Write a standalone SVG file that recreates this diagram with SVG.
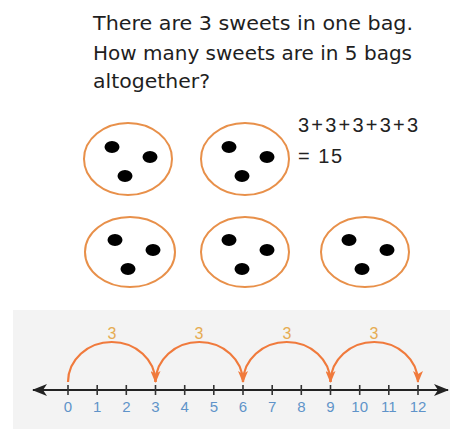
<svg xmlns="http://www.w3.org/2000/svg" width="450" height="429" viewBox="0 0 450 429">
<defs>
<style>
.q{font-family:"DejaVu Sans","Liberation Sans",sans-serif;font-size:20px;fill:#1e1e1e}
.eq{font-family:"Liberation Sans",Arial,sans-serif;font-size:20px;fill:#222}
.bag{fill:#fff;stroke:#e8904a;stroke-width:2}
.dot{fill:#000}
.num{font-family:"Liberation Sans",Arial,sans-serif;font-size:15px;fill:#5f93c9;text-anchor:middle}
.jl{font-family:"Liberation Sans",Arial,sans-serif;font-size:16px;fill:#e6ac52;text-anchor:middle}
.jump{fill:none;stroke:#f07a3c;stroke-width:2.2;marker-end:url(#ah)}
.tick{stroke:#333;stroke-width:1.6}
</style>
<marker id="ah" viewBox="0 0 12 10" refX="11" refY="5" markerWidth="12" markerHeight="10" markerUnits="userSpaceOnUse" orient="auto">
<path d="M0,0 L12,5 L0,10 L3,5 Z" fill="#f07a3c"/>
</marker>
<marker id="la" viewBox="0 0 15 12" refX="14" refY="6" markerWidth="15" markerHeight="12" markerUnits="userSpaceOnUse" orient="auto-start-reverse">
<path d="M15,6 L0,0 L4,6 L0,12 Z" fill="#222"/>
</marker>
<symbol id="sweets" overflow="visible">
<ellipse class="dot" cx="-16" cy="-12" rx="7.5" ry="6"/>
<ellipse class="dot" cx="22" cy="-2" rx="7.5" ry="6"/>
<ellipse class="dot" cx="-3" cy="17" rx="7.5" ry="6"/>
</symbol>
</defs>
<rect width="450" height="429" fill="#fff"/>
<rect x="13" y="310" width="437" height="119" fill="#f3f3f3"/>

<g id="question">
<text class="q" x="93" y="30" textLength="320" lengthAdjust="spacingAndGlyphs">There are 3 sweets in one bag.</text>
<text class="q" x="93" y="60" textLength="319" lengthAdjust="spacingAndGlyphs">How many sweets are in 5 bags</text>
<text class="q" x="93" y="88" textLength="117" lengthAdjust="spacingAndGlyphs">altogether?</text>
</g>

<g id="equation">
<text class="eq" x="298" y="132" textLength="120">3+3+3+3+3</text>
<text class="eq" x="298" y="163" textLength="44">= 15</text>
</g>

<g id="bag1"><ellipse class="bag" cx="128" cy="159" rx="44" ry="36"/><use href="#sweets" x="128" y="159"/></g>
<g id="bag2"><ellipse class="bag" cx="245" cy="159" rx="44" ry="36"/><use href="#sweets" x="245" y="159"/></g>
<g id="bag3"><ellipse class="bag" cx="130" cy="252" rx="45" ry="35"/><use href="#sweets" x="131" y="252"/></g>
<g id="bag4"><ellipse class="bag" cx="245" cy="252" rx="44" ry="35"/><use href="#sweets" x="245" y="252"/></g>
<g id="bag5"><ellipse class="bag" cx="365" cy="252" rx="44" ry="35"/><use href="#sweets" x="365" y="252"/></g>

<g id="numberline">
<line x1="33" y1="390" x2="448" y2="390" stroke="#222" stroke-width="2" marker-start="url(#la)" marker-end="url(#la)"/>
<g class="tick">
<line x1="68" y1="385" x2="68" y2="395"/><line x1="97.2" y1="385" x2="97.2" y2="395"/><line x1="126.3" y1="385" x2="126.3" y2="395"/><line x1="155.5" y1="385" x2="155.5" y2="395"/><line x1="184.7" y1="385" x2="184.7" y2="395"/><line x1="213.8" y1="385" x2="213.8" y2="395"/><line x1="243" y1="385" x2="243" y2="395"/><line x1="272.2" y1="385" x2="272.2" y2="395"/><line x1="301.3" y1="385" x2="301.3" y2="395"/><line x1="330.5" y1="385" x2="330.5" y2="395"/><line x1="359.7" y1="385" x2="359.7" y2="395"/><line x1="388.8" y1="385" x2="388.8" y2="395"/><line x1="418" y1="385" x2="418" y2="395"/>
</g>
<text class="num" x="68" y="412">0</text><text class="num" x="97.2" y="412">1</text><text class="num" x="126.3" y="412">2</text><text class="num" x="155.5" y="412">3</text><text class="num" x="184.7" y="412">4</text><text class="num" x="213.8" y="412">5</text><text class="num" x="243" y="412">6</text><text class="num" x="272.2" y="412">7</text><text class="num" x="301.3" y="412">8</text><text class="num" x="330.5" y="412">9</text><text class="num" x="359.7" y="412">10</text><text class="num" x="388.8" y="412">11</text><text class="num" x="418" y="412">12</text>
</g>

<g id="connectors">
<path class="jump" d="M68,382 A43.75,40 0 0 1 155.5,382"/>
<path class="jump" d="M155.5,382 A43.75,40 0 0 1 243,382"/>
<path class="jump" d="M243,382 A43.75,40 0 0 1 330.5,382"/>
<path class="jump" d="M330.5,382 A43.75,40 0 0 1 418,382"/>
<text class="jl" x="112" y="339">3</text>
<text class="jl" x="199" y="339">3</text>
<text class="jl" x="287" y="339">3</text>
<text class="jl" x="374" y="339">3</text>
</g>
</svg>
